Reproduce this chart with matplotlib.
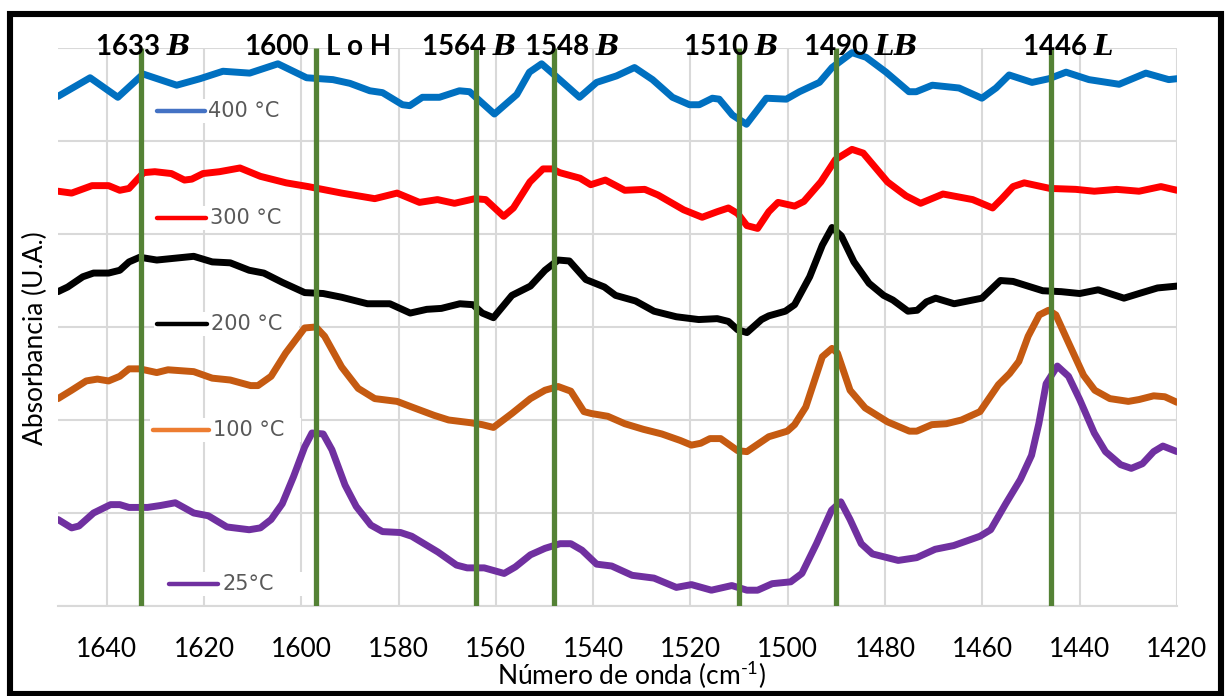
import matplotlib
matplotlib.use("Agg")
import matplotlib.pyplot as plt
from matplotlib.lines import Line2D
from matplotlib.patches import Rectangle

plt.rcParams['font.family'] = ['Lato', 'DejaVu Sans']
plt.rcParams['mathtext.fontset'] = 'custom'
plt.rcParams['mathtext.it'] = 'DejaVu Serif:italic:bold'
plt.rcParams['mathtext.rm'] = 'Lato'

# ---------------- data (wavenumber cm-1, absorbance in arbitrary offset units) -------------
w400 = [1650, 1643.4, 1637.7, 1632.5, 1625.6, 1620.8, 1616.1, 1610.6, 1604.8, 1598.9,
        1593.5, 1590.0, 1585.9, 1583.3, 1579.2, 1577.7, 1575.1, 1571.6, 1567.5, 1565.4,
        1560.3, 1555.7, 1553.1, 1550.6, 1548.4, 1542.8, 1539.3, 1535.2, 1531.5, 1527.8,
        1523.7, 1520.2, 1518.2, 1515.5, 1514.1, 1511.4, 1508.5, 1504.4, 1500.3, 1497.6,
        1493.5, 1490.9, 1486.8, 1483.9, 1479.8, 1475.1, 1473.6, 1470.3, 1464.8, 1460.1,
        1457.2, 1454.5, 1449.8, 1446.3, 1442.8, 1438.1, 1431.9, 1426.4, 1421.7, 1420]
a400 = [5.48, 5.68, 5.47, 5.72, 5.60, 5.67, 5.75, 5.73, 5.83, 5.68,
        5.66, 5.62, 5.54, 5.52, 5.39, 5.38, 5.47, 5.47, 5.54, 5.53,
        5.29, 5.50, 5.74, 5.83, 5.73, 5.47, 5.63, 5.70, 5.79, 5.66,
        5.47, 5.39, 5.39, 5.46, 5.45, 5.28, 5.18, 5.46, 5.45, 5.53,
        5.63, 5.79, 5.95, 5.90, 5.74, 5.53, 5.53, 5.60, 5.57, 5.46,
        5.57, 5.71, 5.63, 5.67, 5.74, 5.66, 5.61, 5.73, 5.66, 5.67]

w300 = [1650, 1647.2, 1643.0, 1639.6, 1637.3, 1635.4, 1632.4, 1630.1, 1626.7, 1624.0,
        1622.5, 1620.2, 1616.8, 1612.6, 1608.4, 1603.1, 1598.6, 1591.7, 1584.9, 1580.3,
        1575.7, 1572.0, 1568.5, 1564.3, 1562.1, 1558.4, 1556.4, 1553.0, 1550.3, 1548.4,
        1546.9, 1542.7, 1540.5, 1537.5, 1533.5, 1529.4, 1526.7, 1521.4, 1517.6, 1514.5,
        1512.2, 1510.3, 1508.4, 1506.2, 1503.9, 1502.0, 1498.6, 1496.7, 1493.2, 1490.2,
        1486.8, 1484.5, 1479.5, 1475.7, 1472.7, 1468.1, 1462.0, 1457.9, 1456.0, 1453.7,
        1451.4, 1446.1, 1440.8, 1437.0, 1432.4, 1427.8, 1423.3, 1420]
a300 = [4.46, 4.44, 4.52, 4.52, 4.47, 4.49, 4.66, 4.67, 4.65, 4.58,
        4.59, 4.65, 4.67, 4.71, 4.62, 4.55, 4.51, 4.44, 4.38, 4.44,
        4.34, 4.37, 4.33, 4.38, 4.37, 4.19, 4.28, 4.56, 4.70, 4.70,
        4.66, 4.60, 4.53, 4.58, 4.47, 4.48, 4.42, 4.26, 4.18, 4.24,
        4.28, 4.22, 4.09, 4.06, 4.24, 4.34, 4.30, 4.35, 4.56, 4.80,
        4.91, 4.87, 4.56, 4.41, 4.33, 4.43, 4.37, 4.28, 4.38, 4.51,
        4.55, 4.49, 4.48, 4.46, 4.48, 4.46, 4.51, 4.47]

w200 = [1650, 1648.0, 1644.9, 1642.7, 1639.6, 1637.3, 1635.4, 1633.2, 1629.7, 1625.9,
        1622.1, 1618.3, 1614.6, 1610.7, 1607.7, 1603.9, 1599.3, 1595.5, 1591.7, 1586.4,
        1581.8, 1577.6, 1574.2, 1571.2, 1567.4, 1564.7, 1562.8, 1560.5, 1556.7, 1552.9,
        1549.9, 1547.2, 1544.9, 1541.5, 1537.7, 1535.4, 1531.3, 1527.5, 1522.9, 1518.3,
        1514.5, 1512.2, 1510.3, 1508.4, 1505.4, 1503.9, 1500.5, 1498.6, 1495.5, 1492.9,
        1490.9, 1489.0, 1486.4, 1483.3, 1480.3, 1478.4, 1475.3, 1473.4, 1471.5, 1469.6,
        1465.8, 1462.0, 1460.1, 1456.3, 1453.7, 1447.6, 1443.8, 1440.0, 1436.2, 1430.9,
        1427.8, 1424.0, 1420]
a200 = [3.38, 3.43, 3.54, 3.58, 3.58, 3.61, 3.70, 3.75, 3.72, 3.74,
        3.76, 3.70, 3.69, 3.61, 3.58, 3.48, 3.37, 3.36, 3.32, 3.25,
        3.25, 3.15, 3.19, 3.20, 3.25, 3.24, 3.15, 3.10, 3.34, 3.44,
        3.61, 3.72, 3.71, 3.51, 3.43, 3.34, 3.28, 3.17, 3.11, 3.08,
        3.09, 3.06, 2.97, 2.94, 3.08, 3.12, 3.17, 3.24, 3.54, 3.88,
        4.07, 3.98, 3.70, 3.47, 3.34, 3.29, 3.17, 3.18, 3.27, 3.31,
        3.25, 3.29, 3.31, 3.50, 3.49, 3.39, 3.38, 3.36, 3.40, 3.31,
        3.36, 3.42, 3.44]

w100 = [1650, 1647.2, 1644.2, 1641.9, 1639.6, 1637.3, 1635.4, 1633.2, 1629.7, 1627.4,
        1622.1, 1618.3, 1614.6, 1610.4, 1608.9, 1606.2, 1603.2, 1599.3, 1597.0, 1595.2,
        1591.7, 1588.3, 1584.9, 1580.3, 1577.3, 1572.7, 1569.7, 1565.1, 1562.8, 1560.5,
        1556.7, 1552.9, 1549.9, 1547.2, 1544.6, 1541.9, 1540.4, 1537.0, 1533.5, 1529.7,
        1525.9, 1522.1, 1519.8, 1517.9, 1516.0, 1513.8, 1510.3, 1508.4, 1503.9, 1500.1,
        1498.6, 1496.3, 1492.9, 1490.9, 1489.8, 1487.2, 1484.1, 1479.5, 1475.0, 1473.5,
        1470.4, 1467.4, 1464.3, 1460.5, 1456.7, 1454.4, 1452.5, 1450.6, 1448.3, 1446.4,
        1444.9, 1442.2, 1439.2, 1436.9, 1433.8, 1430.0, 1427.8, 1424.8, 1422.5, 1420]
a100 = [2.23, 2.32, 2.42, 2.44, 2.42, 2.47, 2.55, 2.55, 2.51, 2.54,
        2.52, 2.45, 2.43, 2.37, 2.37, 2.47, 2.72, 2.99, 3.00, 2.90,
        2.57, 2.34, 2.23, 2.20, 2.14, 2.05, 2.00, 1.97, 1.95, 1.92,
        2.07, 2.23, 2.32, 2.36, 2.31, 2.09, 2.07, 2.04, 1.96, 1.90,
        1.85, 1.78, 1.73, 1.75, 1.80, 1.80, 1.67, 1.66, 1.82, 1.88,
        1.95, 2.14, 2.68, 2.77, 2.72, 2.32, 2.13, 1.98, 1.88, 1.88,
        1.95, 1.96, 2.00, 2.09, 2.38, 2.50, 2.63, 2.90, 3.13, 3.18,
        3.13, 2.82, 2.48, 2.32, 2.23, 2.20, 2.22, 2.26, 2.25, 2.19]

w25 = [1650, 1647.2, 1645.7, 1642.7, 1639.2, 1637.3, 1635.4, 1631.6, 1629.0, 1625.9,
       1622.1, 1619.1, 1615.3, 1610.7, 1608.4, 1606.2, 1603.9, 1601.6, 1599.3, 1597.8,
       1595.5, 1593.7, 1591.0, 1588.7, 1585.7, 1583.3, 1579.6, 1577.3, 1571.9, 1568.1,
       1565.9, 1562.4, 1558.3, 1556.0, 1552.9, 1549.9, 1546.8, 1544.6, 1542.3, 1539.3,
       1536.2, 1532.0, 1527.5, 1522.9, 1519.8, 1515.7, 1511.5, 1508.4, 1506.2, 1503.2,
       1499.4, 1497.1, 1494.1, 1491.0, 1489.1, 1487.2, 1484.9, 1482.6, 1477.3, 1473.5,
       1469.7, 1465.9, 1460.5, 1458.3, 1455.2, 1452.2, 1449.9, 1448.4, 1446.9, 1444.6,
       1442.3, 1440.0, 1437.0, 1434.7, 1431.6, 1429.4, 1427.1, 1424.8, 1422.9, 1420]
a25 = [0.93, 0.84, 0.86, 1.00, 1.09, 1.09, 1.06, 1.06, 1.08, 1.11,
       1.00, 0.97, 0.85, 0.82, 0.84, 0.93, 1.10, 1.39, 1.71, 1.86,
       1.85, 1.68, 1.30, 1.07, 0.87, 0.80, 0.79, 0.75, 0.58, 0.44,
       0.41, 0.41, 0.35, 0.42, 0.55, 0.62, 0.67, 0.67, 0.60, 0.45,
       0.43, 0.33, 0.30, 0.20, 0.23, 0.17, 0.22, 0.17, 0.17, 0.24,
       0.26, 0.35, 0.67, 1.03, 1.12, 0.93, 0.67, 0.56, 0.49, 0.52,
       0.61, 0.65, 0.75, 0.82, 1.10, 1.36, 1.62, 1.96, 2.39, 2.58,
       2.47, 2.22, 1.86, 1.66, 1.52, 1.48, 1.53, 1.66, 1.72, 1.66]

series_labels = ['400 °C', '300 °C', '200 °C', '100 °C', '25°C']
peak_positions = [1633, 1597, 1564, 1548, 1510, 1490, 1446]
peak_labels = ['1633 $B$', '1600', 'L o H', '1564 $B$', '1548 $B$', '1510 $B$', '1490 $LB$', '1446 $L$']
xtick_values = list(range(1640, 1419, -20))

# ---------------- figure ----------------
W, H = 1229, 696
fig = plt.figure(figsize=(W / 100, H / 100), dpi=100)

def fx(px):
    return px / W

def fy(py):
    return 1 - py / H

ax = fig.add_axes([fx(58), fy(606), fx(1177) - fx(58), fy(48) - fy(606)])
ax.set_xlim(1650, 1420)
ax.set_ylim(0, 6)
ax.set_xticks(xtick_values)
ax.set_yticks(range(0, 7))
ax.set_yticklabels([])
ax.grid(True, color='#D9D9D9', lw=1.5)
ax.set_axisbelow(True)
for s in ['top', 'left', 'right']:
    ax.spines[s].set_visible(False)
ax.spines['bottom'].set_color('#D9D9D9')
ax.spines['bottom'].set_linewidth(1.5)
ax.tick_params(axis='both', length=0)
ax.tick_params(axis='x', labelsize=19, pad=22, labelcolor='black')

line_colors = ['#0070C0', '#FF0000', '#000000', '#C55A11', '#7030A0']
legend_colors = ['#4472C4', '#FF0000', '#000000', '#ED7D31', '#7030A0']
data = [(w400, a400), (w300, a300), (w200, a200), (w100, a100), (w25, a25)]
for (wv, av), c in zip(data, line_colors):
    if len(wv) != len(av):
        raise ValueError('length mismatch')
    ax.plot(wv, av, color=c, lw=5, solid_joinstyle='round', solid_capstyle='round', zorder=2)

ax.vlines(peak_positions, 0, 6, color='#548235', lw=3.8, zorder=3)

# peak labels (centers in pixel coordinates)
label_px = [142.5, 276, 359, 469, 572, 731, 860, 1068]
for txt, px in zip(peak_labels, label_px):
    fig.text(fx(px), fy(55), txt, ha='center', va='baseline', fontsize=20,
             fontweight='bold', color='black', zorder=10)

# inline legend entries
leg_pos = [(157, 205, 111, 208), (157, 206, 218, 210), (157, 207, 324, 211),
           (153, 209, 430, 213), (169, 218, 584, 223)]
for (x0, x1, y, xt), lab, c in zip(leg_pos, series_labels, legend_colors):
    ax.add_patch(Rectangle((fx(x0 - 3), fy(y + 12)), fx(95 + x1 - x0), fy(y - 12) - fy(y + 12),
                           transform=fig.transFigure, facecolor='white', edgecolor='none',
                           zorder=1.5, clip_on=False))
    ax.add_line(Line2D([fx(x0), fx(x1)], [fy(y), fy(y)], transform=fig.transFigure,
                       color=c, lw=3.2, solid_capstyle='round', zorder=1.8, clip_on=False))
    ax.text(fx(xt), fy(y), lab, transform=fig.transFigure, ha='left', va='center',
            fontsize=15, color='#595959', family='DejaVu Sans', zorder=1.8, clip_on=False)

# axis titles
fig.text(fx(632), fy(685), r'Número de onda (cm$^{\text{-1}}$)', ha='center', va='baseline', fontsize=19)
fig.text(fx(35), fy(338), 'Absorbancia (U.A.)', ha='center', va='center', rotation=90, fontsize=19)

# outer black border
fig.add_artist(Rectangle((fx(9.5), fy(693.5)), fx(1220.5) - fx(9.5), fy(13.5) - fy(693.5),
                         transform=fig.transFigure, fill=False, edgecolor='black', lw=4.4))

fig.savefig('out.png', dpi=100)
